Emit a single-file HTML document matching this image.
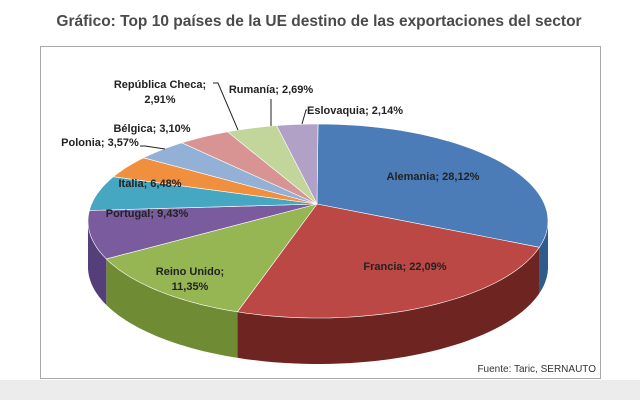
<!DOCTYPE html>
<html><head><meta charset="utf-8"><style>
body{margin:0;width:640px;height:400px;background:#fff;overflow:hidden;font-family:"Liberation Sans",sans-serif}
svg{position:absolute;left:0;top:0}
</style></head><body>
<svg width="640" height="400">
<rect x="0" y="380" width="640" height="20" fill="#ececec"/>
<text x="319" y="26" text-anchor="middle" font-size="15.5" font-weight="bold" fill="#4a4a4a">Gráfico: Top 10 países de la UE destino de las exportaciones del sector</text>
<rect x="40.5" y="46.5" width="560" height="332" fill="#fff" stroke="#a8a8a8"/>
<g id="sides"></g><g id="tops"></g><g id="labels"></g>
<text x="596" y="372" text-anchor="end" font-size="10" fill="#333">Fuente: Taric, SERNAUTO</text>
</svg>
<script>
const categories=["Alemania","Francia","Reino Unido","Portugal","Italia","Polonia","Bélgica","República Checa","Rumanía","Eslovaquia"];
const values=[28.12,22.09,11.35,9.43,6.48,3.57,3.10,2.91,2.69,2.14];
const valueLabels=["28,12%","22,09%","11,35%","9,43%","6,48%","3,57%","3,10%","2,91%","2,69%","2,14%"];
const topColors=["#4b7cb8","#bb4845","#95b653","#7a5c9e","#45a7c2","#f08f3e","#93b0d6","#d79492","#c2d59a","#b1a1c6"];
const sideColors=["#2f5a8c","#6e2522","#6f8c35","#553f78","#2c7d94","#b8661f","#6a88ad","#a86866","#95a872","#8676a0"];
const NS="http://www.w3.org/2000/svg";
const cx=318,cy=221,rx=230,ry=97,depth=46,ax=317,ay=204;
const total=values.reduce((a,b)=>a+b,0);
function warp(a){return a+0.12*Math.sin(2*a);}
function pt(a,dy){return [cx+rx*Math.sin(a),cy-ry*Math.cos(a)+(dy||0)];}
function arc(a1,a2,dy,rev){let s="";const n=40;for(let i=0;i<=n;i++){const t=rev?a2-(a2-a1)*i/n:a1+(a2-a1)*i/n;const p=pt(t,dy);s+=(i==0&&!rev?"M":"L")+p[0].toFixed(1)+","+p[1].toFixed(1);}return s;}
const sides=document.getElementById("sides"),tops=document.getElementById("tops");
let acc=0;
values.forEach((v,i)=>{
 const a1=warp(acc/total*2*Math.PI); acc+=v; const a2=warp(acc/total*2*Math.PI);
 const s1=Math.max(a1,Math.PI/2),s2=Math.min(a2,3*Math.PI/2);
 if(s2>s1){const p=document.createElementNS(NS,"path");
  p.setAttribute("d",arc(s1,s2,0,false)+arc(s1,s2,depth,true)+"Z");
  p.setAttribute("fill",sideColors[i]);
  
  
  sides.appendChild(p);}
 const t=document.createElementNS(NS,"path");
 t.setAttribute("d","M"+ax+","+ay+arc(a1,a2,0,false).replace(/^M/,"L")+"Z");
 t.setAttribute("fill",topColors[i]);t.setAttribute("stroke","#fff");t.setAttribute("stroke-width","0.6");
 
 
 tops.appendChild(t);
});
const L=document.getElementById("labels");
const lab=[[433,180,1],[405,270,1],[190,275,2],[147,217,1],[150,187,1],[100,146,1],[152,132,1],[160,88,2],[271,93,1],[355,114,1]];
lab.forEach((l,i)=>{
 const t=document.createElementNS(NS,"text");
 t.setAttribute("x",l[0]);t.setAttribute("y",l[1]);t.setAttribute("text-anchor","middle");
 t.setAttribute("font-size","11");t.setAttribute("font-weight","bold");t.setAttribute("fill","#222");
 
 
 if(l[2]==2){const a=document.createElementNS(NS,"tspan");a.setAttribute("x",l[0]);a.textContent=categories[i]+";";
  const b=document.createElementNS(NS,"tspan");b.setAttribute("x",l[0]);b.setAttribute("dy","15");b.textContent=valueLabels[i];t.appendChild(a);t.appendChild(b);}
 else t.textContent=categories[i]+"; "+valueLabels[i];
 L.appendChild(t);
});
const lines=[[140,146,165,149],[213,83,238,130],[271,99,271,126],[307,110,302,124]];
lines.forEach(d=>{const p=document.createElementNS(NS,"polyline");
 p.setAttribute("points",d[0]+","+d[1]+" "+(d[0]+(d[2]-d[0])*0.2)+","+d[1]+" "+d[2]+","+d[3]);
 p.setAttribute("fill","none");p.setAttribute("stroke","#222");
 
 
 L.appendChild(p);});
</script>
</body></html>
